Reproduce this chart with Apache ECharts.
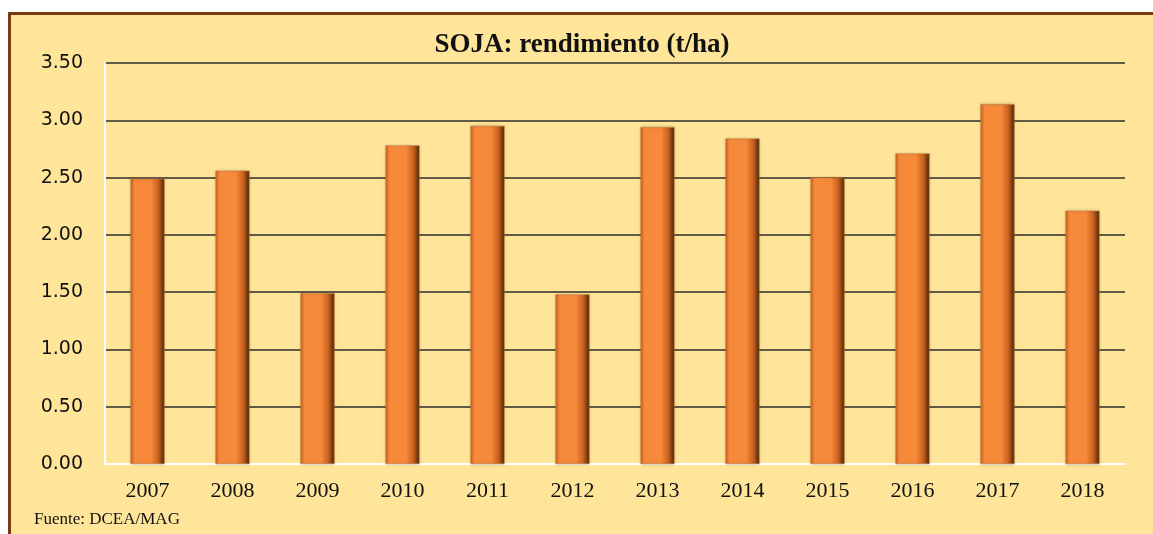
<!DOCTYPE html>
<html>
<head>
<meta charset="utf-8">
<title>SOJA: rendimiento</title>
<script src="https://cdn.jsdelivr.net/npm/echarts@6/dist/echarts.min.js"></script>
<style>
  html, body { margin: 0; padding: 0; background: #fff; overflow: hidden; }
  #frame {
    position: absolute; left: 8px; top: 12px;
    width: 1160px; height: 540px;
    border-left: 3px solid #7b3a12; border-top: 3px solid #7b3a12;
    background: #fee599;
  }
  #chart { width: 1142px; height: 519px; }
</style>
</head>
<body>
<div id="frame"><div id="chart"></div></div>
<script>
// años y rendimiento (t/ha)
var years = ['2007','2008','2009','2010','2011','2012','2013','2014','2015','2016','2017','2018'];
var yields = [2.49, 2.56, 1.49, 2.78, 2.95, 1.48, 2.94, 2.84, 2.50, 2.71, 3.14, 2.21];
var yTicks = [0, 0.5, 1, 1.5, 2, 2.5, 3, 3.5];

var chart = echarts.init(document.getElementById('chart'));

var barColor = new echarts.graphic.LinearGradient(0, 0, 1, 0, [
  { offset: 0, color: '#c8621f' },
  { offset: 0.12, color: '#f7893a' },
  { offset: 0.6, color: '#f7893a' },
  { offset: 0.82, color: '#c8611f' },
  { offset: 1, color: '#4a2508' }
]);

chart.setOption({
  animation: false,
  title: {
    text: 'SOJA: rendimiento (t/ha)',
    left: 'center',
    top: 12,
    textStyle: { fontFamily: 'Liberation Serif', fontWeight: 'bold', fontSize: 27, color: '#111' }
  },
  grid: { left: 94, right: 28, top: 48, bottom: 70 },
  xAxis: {
    type: 'category',
    data: years,
    axisLine: { lineStyle: { color: '#ffffff', width: 2 } },
    axisTick: { show: false },
    axisLabel: { fontFamily: 'Liberation Serif', fontSize: 22, color: '#111', margin: 16 }
  },
  yAxis: {
    type: 'value',
    min: yTicks[0],
    max: yTicks[yTicks.length - 1],
    interval: 0.5,
    axisLine: { show: true, lineStyle: { color: '#ffffff', width: 2 } },
    axisTick: { show: false },
    axisLabel: {
      fontFamily: 'DejaVu Sans', fontSize: 19, color: '#111', margin: 22,
      formatter: function (v) { return v.toFixed(2); }
    },
    splitLine: { lineStyle: { color: '#2b2b2b', width: 1.5 } }
  },
  series: [{
    type: 'bar',
    data: yields,
    barWidth: 34,
    itemStyle: {
      color: barColor,
      borderColor: '#b9783c',
      borderWidth: 0.5,
      shadowColor: 'rgba(90,50,10,0.35)',
      shadowBlur: 3
    }
  }],
  graphic: [{
    type: 'text',
    left: 23,
    top: 496,
    style: { text: 'Fuente: DCEA/MAG', fontFamily: 'Liberation Serif', fontSize: 17, fill: '#111' }
  }]
});
</script>
</body>
</html>
